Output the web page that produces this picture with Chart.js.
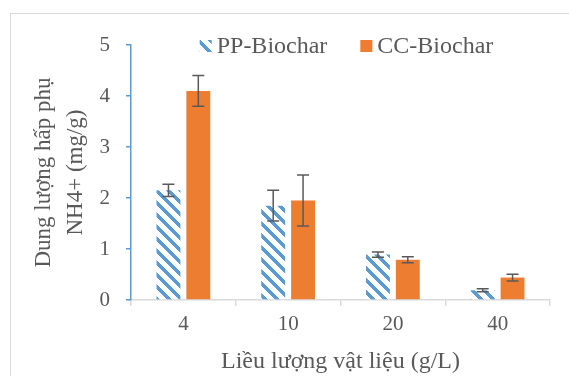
<!DOCTYPE html>
<html lang="vi">
<head>
<meta charset="UTF-8">
<title>Dung lượng hấp phụ NH4+</title>
<script src="https://cdn.jsdelivr.net/npm/chart.js"></script>
<style>
  html, body { margin: 0; padding: 0; background: #fff; }
  body { width: 569px; height: 376px; overflow: hidden; position: relative; }
  /* light frame of the chart object, runs off the right and bottom edge */
  .frame { position: absolute; left: 10px; top: 13px; width: 620px; height: 420px;
           border: 1px solid #d9d9d9; box-sizing: border-box; }
  #wrap { position: absolute; left: 0; top: 0; width: 569px; height: 376px; }
</style>
</head>
<body>
<div class="frame"></div>
<div id="wrap"><canvas id="chart"></canvas></div>

<script>
// data
const doses = ['4', '10', '20', '40'];
const seriesNames = ['PP-Biochar', 'CC-Biochar'];
const ppValues = [2.15, 1.85, 0.89, 0.19];
const ppErrors = [0.12, 0.30, 0.05, 0.03];
const ccValues = [4.10, 1.95, 0.79, 0.44];
const ccErrors = [0.30, 0.50, 0.06, 0.065];
const yTicks = [0, 1, 2, 3, 4, 5];

const BLUE = '#5B9BD5';
const ORANGE = '#ED7D31';
const TEXT = '#595959';
const FONT = '"Liberation Serif", "Times New Roman", serif';

// downward diagonal hatch for PP-Biochar
function makeHatch() {
  const P = 12;
  const c = document.createElement('canvas');
  c.width = P; c.height = P;
  const g = c.getContext('2d');
  g.fillStyle = '#fff';
  g.fillRect(0, 0, P, P);
  g.fillStyle = BLUE;
  for (let x = 0; x < P; x++) {
    for (let y = 0; y < P; y++) {
      if ((((x - y) % P) + P) % P < 5) g.fillRect(x, y, 1, 1);
    }
  }
  return document.getElementById('chart').getContext('2d').createPattern(c, 'repeat');
}
const hatch = makeHatch();

// error bars, positioned with the y scale
const errorBars = {
  id: 'errorBars',
  afterDatasetsDraw(chart) {
    const ctx = chart.ctx;
    const y = chart.scales.y;
    ctx.save();
    ctx.strokeStyle = TEXT;
    ctx.lineWidth = 1.5;
    chart.data.datasets.forEach((ds, d) => {
      chart.getDatasetMeta(d).data.forEach((bar, i) => {
        const v = ds.data[i], e = ds.errors[i];
        const yt = y.getPixelForValue(v + e);
        const yb = y.getPixelForValue(v - e);
        const x = bar.x;
        ctx.beginPath();
        ctx.moveTo(x, yt); ctx.lineTo(x, yb);
        ctx.moveTo(x - 6, yt); ctx.lineTo(x + 6, yt);
        ctx.moveTo(x - 6, yb); ctx.lineTo(x + 6, yb);
        ctx.stroke();
      });
    });
    ctx.restore();
  }
};

// legend drawn over the top of the plot, as in the original
const topLegend = {
  id: 'topLegend',
  afterDraw(chart) {
    const ctx = chart.ctx;
    const area = chart.chartArea;
    ctx.save();
    ctx.font = '24px ' + FONT;
    ctx.textBaseline = 'middle';
    const box = 12, gap = 5, itemGap = 33;
    const widths = chart.data.datasets.map(ds => box + gap + ctx.measureText(ds.label).width);
    const total = widths.reduce((a, b) => a + b, 0) + itemGap * (widths.length - 1);
    let x = (area.left + area.right) / 2 + 6 - total / 2;
    const cy = area.top + 1;
    chart.data.datasets.forEach((ds, i) => {
      ctx.fillStyle = ds.backgroundColor;
      ctx.fillRect(x, cy - box / 2, box, box);
      ctx.fillStyle = TEXT;
      ctx.fillText(ds.label, x + box + gap, cy + 1);
      x += widths[i] + itemGap;
    });
    ctx.restore();
  }
};

new Chart(document.getElementById('chart'), {
  type: 'bar',
  data: {
    labels: doses,
    datasets: [
      { label: seriesNames[0], data: ppValues, errors: ppErrors, backgroundColor: hatch },
      { label: seriesNames[1], data: ccValues, errors: ccErrors, backgroundColor: ORANGE }
    ]
  },
  options: {
    responsive: true,
    maintainAspectRatio: false,
    animation: false,
    categoryPercentage: 0.57,
    barPercentage: 0.8,
    layout: { padding: { left: 0, top: 45, right: 19, bottom: 0 } },
    plugins: { legend: { display: false }, tooltip: { enabled: false } },
    scales: {
      x: {
        afterFit(s) { s.height = 76; },
        grid: { drawOnChartArea: false, color: '#d9d9d9', lineWidth: 1.5, tickLength: 6 },
        border: { color: '#d9d9d9', width: 1.5 },
        ticks: { color: TEXT, padding: 6, font: { family: FONT, size: 21 } },
        title: {
          display: true, text: 'Liều lượng vật liệu (g/L)', color: TEXT,
          font: { family: FONT, size: 24 }, padding: { top: 0, bottom: 0 }
        }
      },
      y: {
        min: yTicks[0],
        max: yTicks[yTicks.length - 1],
        afterFit(s) { s.width = 131; },
        grid: { drawOnChartArea: false, color: BLUE, lineWidth: 1.5, tickLength: 5 },
        border: { color: BLUE, width: 1.5 },
        ticks: { stepSize: yTicks[1] - yTicks[0], color: TEXT, padding: 16, font: { family: FONT, size: 21 } },
        title: {
          display: true, text: ['Dung lượng hấp phụ', 'NH4+ (mg/g)'], color: TEXT,
          font: { family: FONT, size: 23, lineHeight: 1.4 }, padding: { top: 28, bottom: 0 }
        }
      }
    }
  },
  plugins: [errorBars, topLegend]
});
</script>
</body>
</html>
